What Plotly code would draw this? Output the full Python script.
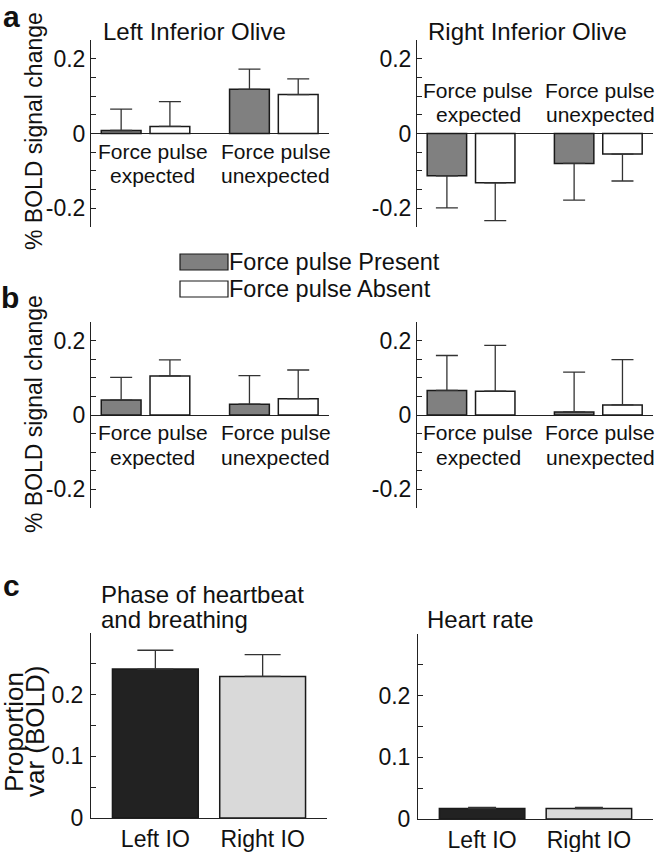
import plotly.graph_objects as go

W, H = 658, 852
FONT = "Liberation Sans, Arial, Helvetica, sans-serif"

# ---------------- data ----------------
groups = [1, 2]
cat_line1 = ["Force pulse", "Force pulse"]
cat_line2 = ["expected", "unexpected"]
series_names = ["Force pulse Present", "Force pulse Absent"]

# panel a : Left / Right inferior olive
a_left_present = [0.008, 0.118]
a_left_present_err = [0.057, 0.054]
a_left_absent = [0.019, 0.104]
a_left_absent_err = [0.066, 0.042]

a_right_present = [-0.113, -0.080]
a_right_present_err = [0.086, 0.098]
a_right_absent = [-0.132, -0.055]
a_right_absent_err = [0.101, 0.072]

# panel b
b_left_present = [0.040, 0.029]
b_left_present_err = [0.061, 0.077]
b_left_absent = [0.105, 0.044]
b_left_absent_err = [0.043, 0.077]

b_right_present = [0.066, 0.008]
b_right_present_err = [0.094, 0.107]
b_right_absent = [0.064, 0.027]
b_right_absent_err = [0.123, 0.122]

# panel c
c_categories = ["Left IO", "Right IO"]
c_phase = [0.2415, 0.2295]
c_phase_err = [0.0305, 0.0355]
c_hr = [0.017, 0.017]
c_hr_err = [0.002, 0.002]

titles_a = ["Left Inferior Olive", "Right Inferior Olive"]
titles_c = [["Phase of heartbeat", "and breathing"], ["Heart rate"]]

# ---------------- styling ----------------
GRAY = "#808080"
WHITE = "#ffffff"
DARK = "#222222"
LIGHT = "#d9d9d9"
EDGE = "#1a1a1a"
ERRC = "#333333"
LABEL_DX = [0.055, 0.015]


def px_x(p):
    return p / W


def px_y(p):
    return 1 - p / H


fig = go.Figure()

panels = {
    "aL": dict(ax="", x=(91, 329), y=(40, 227)),
    "aR": dict(ax="2", x=(417, 653), y=(40, 227)),
    "bL": dict(ax="3", x=(91, 329), y=(322, 508)),
    "bR": dict(ax="4", x=(417, 653), y=(322, 508)),
    "cL": dict(ax="5", x=(91, 327), y=(633, 818)),
    "cR": dict(ax="6", x=(418, 653), y=(634, 819)),
}


def err_parts(vals, errs):
    plus = [e if v >= 0 else 0 for v, e in zip(vals, errs)]
    minus = [e if v < 0 else 0 for v, e in zip(vals, errs)]
    return plus, minus


def add_group_bars(key, present, present_err, absent, absent_err):
    ax = panels[key]["ax"]
    for vals, errs, col, off in [
        (present, present_err, GRAY, -0.19),
        (absent, absent_err, WHITE, 0.19),
    ]:
        plus, minus = err_parts(vals, errs)
        fig.add_trace(go.Bar(
            x=groups, y=vals, width=0.31, offset=off - 0.155,
            marker=dict(color=col, line=dict(color=EDGE, width=1.5)),
            error_y=dict(type="data", symmetric=False, array=plus, arrayminus=minus,
                         color=ERRC, thickness=1.3, width=11),
            xaxis="x" + ax, yaxis="y" + ax, showlegend=False,
        ))
    # category labels, opposite side to the bars
    for i, g in enumerate(groups):
        neg = (present[i] + absent[i]) < 0
        y1, y2 = (0.115, 0.05) if neg else (-0.048, -0.113)
        for txt, yy in [(cat_line1[i], y1), (cat_line2[i], y2)]:
            fig.add_annotation(x=g + LABEL_DX[i], y=yy, xref="x" + ax, yref="y" + ax,
                               text=txt, showarrow=False, xanchor="center", yanchor="middle",
                               font=dict(size=21, family=FONT, color="#111"))


add_group_bars("aL", a_left_present, a_left_present_err, a_left_absent, a_left_absent_err)
add_group_bars("aR", a_right_present, a_right_present_err, a_right_absent, a_right_absent_err)
add_group_bars("bL", b_left_present, b_left_present_err, b_left_absent, b_left_absent_err)
add_group_bars("bR", b_right_present, b_right_present_err, b_right_absent, b_right_absent_err)

for key, vals, errs, capw in [("cL", c_phase, c_phase_err, 18), ("cR", c_hr, c_hr_err, 14)]:
    ax = panels[key]["ax"]
    fig.add_trace(go.Bar(
        x=[1, 2], y=vals, width=0.8,
        marker=dict(color=[DARK, LIGHT], line=dict(color=EDGE, width=1.5)),
        error_y=dict(type="data", symmetric=False, array=errs, arrayminus=[0, 0],
                     color=ERRC, thickness=1.3, width=capw),
        xaxis="x" + ax, yaxis="y" + ax, showlegend=False,
    ))

layout = dict(
    template="none",
    width=W, height=H, margin=dict(l=0, r=0, t=0, b=0, pad=0, autoexpand=False),
    paper_bgcolor="white", plot_bgcolor="white",
    barmode="overlay", showlegend=False,
    font=dict(family=FONT, size=22, color="#111"),
)

tickfont = dict(size=23, family=FONT, color="#111")
for key, p in panels.items():
    ax = p["ax"]
    xd = [px_x(p["x"][0]), px_x(p["x"][1])]
    yd = [px_y(p["y"][1]), px_y(p["y"][0])]
    is_c = key.startswith("c")
    xa = dict(domain=xd, anchor="y" + ax, showgrid=False, zeroline=False, fixedrange=True,
              automargin=False)
    ya = dict(domain=yd, anchor="x" + ax, showgrid=False, showline=True, linecolor="#222",
              linewidth=1, ticks="inside", ticklen=5, tickcolor="#222", tickfont=tickfont,
              automargin=False, fixedrange=True)
    if is_c:
        xa.update(range=[0.4, 2.6], showline=True, linecolor="#222", linewidth=1,
                  tickvals=[1, 2], ticktext=c_categories, ticks="", tickfont=tickfont)
        ya.update(range=[0, 0.3], tickvals=[0, 0.1, 0.2], ticktext=["0", "0.1", "0.2"],
                  zeroline=False, ticklabelstandoff=2,
                  minor=dict(tick0=0, dtick=0.05, ticks="inside", ticklen=5,
                             tickcolor="#222", showgrid=False))
    else:
        xa.update(range=[0.575, 2.43], showline=False, showticklabels=False, ticks="")
        ya.update(range=[-0.25, 0.25], tickvals=[-0.2, 0, 0.2], ticktext=["-0.2", "0", "0.2"],
                  zeroline=True, zerolinecolor="#222", zerolinewidth=1,
                  minor=dict(tick0=0, dtick=0.05, ticks="inside", ticklen=5,
                             tickcolor="#222", showgrid=False))
    layout["xaxis" + ax] = xa
    layout["yaxis" + ax] = ya

fig.update_layout(**layout)


def paper_text(x, y, text, size=22, angle=0, xanchor="center"):
    fig.add_annotation(x=px_x(x), y=px_y(y), xref="paper", yref="paper", text=text,
                       showarrow=False, xanchor=xanchor, yanchor="middle", textangle=angle,
                       font=dict(size=size, family=FONT, color="#111"))


# panel letters
paper_text(11, 16, "<b>a</b>", size=30)
paper_text(10, 297, "<b>b</b>", size=30)
paper_text(11, 585, "<b>c</b>", size=30)

# titles
paper_text(194, 32, titles_a[0], size=24)
paper_text(527, 32, titles_a[1], size=24)
paper_text(99, 594, titles_c[0][0], size=24, xanchor="left")
paper_text(99, 619, titles_c[0][1], size=24, xanchor="left")
paper_text(425, 619, titles_c[1][0], size=24, xanchor="left")

# y-axis titles
paper_text(34, 131, "% BOLD signal change", size=23, angle=-90)
paper_text(34, 414, "% BOLD signal change", size=23, angle=-90)
paper_text(14, 732, "Proportion", size=26, angle=-90)
paper_text(35, 732, "var (BOLD)", size=26, angle=-90)

# legend
for (y0, y1), col, name in [((254, 270), GRAY, series_names[0]), ((281, 297), WHITE, series_names[1])]:
    fig.add_shape(type="rect", xref="paper", yref="paper",
                  x0=px_x(180), x1=px_x(228), y0=px_y(y1), y1=px_y(y0),
                  fillcolor=col, line=dict(color=EDGE, width=1.2))
    paper_text(227, (y0 + y1) / 2, name, size=23.5, xanchor="left")

fig.write_html("out.html", post_script="document.body.style.margin='0';",
               config={"displayModeBar": False})
